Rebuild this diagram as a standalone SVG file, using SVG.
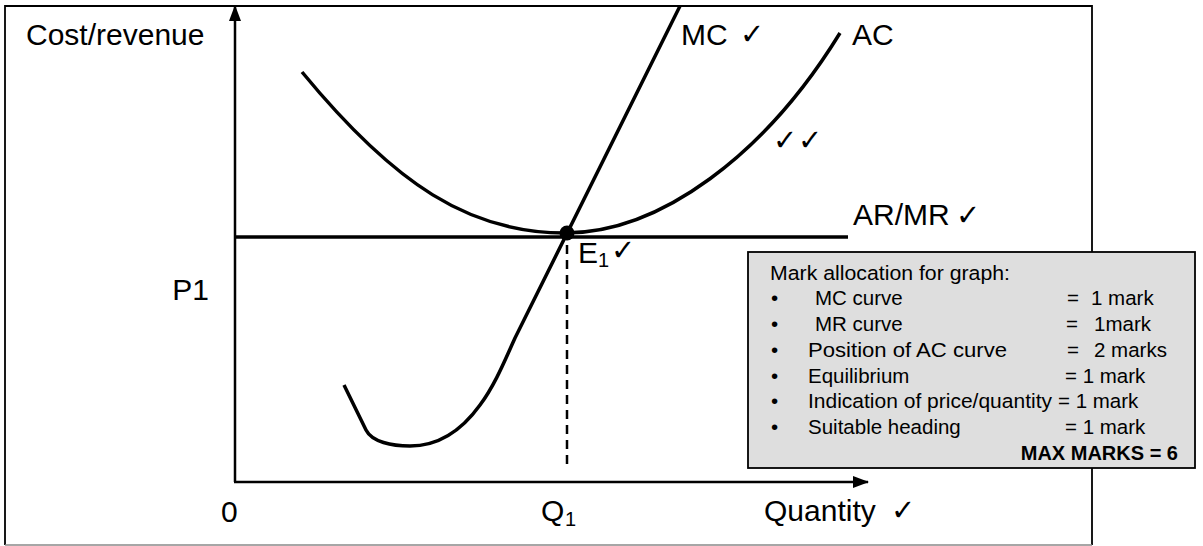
<svg xmlns="http://www.w3.org/2000/svg" width="1203" height="546" viewBox="0 0 1203 546">
<style>
.t{font-family:"Liberation Sans",Arial,"DejaVu Sans",sans-serif;fill:#000}
.lg{font-size:30px}
.sub{font-size:20px}
.bx{font-size:20.5px}
.ck{font-family:"DejaVu Sans",sans-serif;font-size:29px;fill:#000}
.curve{fill:none;stroke:#000;stroke-width:3.5;stroke-linejoin:round}
.axis{fill:none;stroke:#000;stroke-width:2.5}
</style>
<defs>
<marker id="ah" viewBox="0 0 16 12" refX="15" refY="6" markerWidth="16" markerHeight="12" markerUnits="userSpaceOnUse" orient="auto">
<path d="M0,0 L16,6 L0,12 Z" fill="#000"/>
</marker>
</defs>
<rect width="1203" height="546" fill="#fff"/>
<g id="frame">
<path d="M5,545 L5,6 L1092,6 L1092,545" fill="none" stroke="#000" stroke-width="1.8"/>
<line x1="5" y1="545" x2="1092" y2="545" stroke="#888" stroke-width="1.5"/>
</g>
<g id="connectors">
<line class="axis" x1="235" y1="482" x2="235" y2="6" marker-end="url(#ah)"/>
<line class="axis" x1="234" y1="482" x2="868" y2="482" marker-end="url(#ah)"/>
<line x1="567" y1="245" x2="567" y2="470" stroke="#000" stroke-width="2.5" stroke-dasharray="9,6"/>
</g>
<g id="ar-mr">
<line x1="234" y1="237" x2="848" y2="237" stroke="#000" stroke-width="3.5"/>
<text class="t lg" x="853" y="225">AR/MR</text>
<text class="ck" x="956" y="225">✓</text>
</g>
<g id="ac">
<path class="curve" d="M302,72 C395,185 470,233 565,233 C660,233 765,155 840,33"/>
<text class="t lg" x="852" y="45">AC</text>
<text class="ck" x="773" y="150">✓</text>
<text class="ck" x="798" y="150">✓</text>
</g>
<g id="mc">
<path class="curve" d="M344,385 L366,430 C372,442 392,446 410,446 C440,446 462,430 480,405 C495,385 505,360 515,338 L680,6"/>
<text class="t lg" x="681" y="45">MC</text>
<text class="ck" x="740" y="44">✓</text>
</g>
<g id="equilibrium">
<circle cx="567" cy="233" r="7.5" fill="#000"/>
<text class="t lg" x="578" y="263">E</text>
<text class="t sub" x="598" y="267">1</text>
<text class="ck" x="611" y="260">✓</text>
</g>
<g id="labels">
<text class="t lg" x="26" y="45">Cost/revenue</text>
<text class="t lg" x="209" y="300" text-anchor="end">P1</text>
<text class="t lg" x="221" y="522">0</text>
<text class="t lg" x="541" y="521">Q</text>
<text class="t sub" x="565" y="526">1</text>
<text class="t lg" x="764" y="521">Quantity</text>
<text class="ck" x="891" y="520">✓</text>
</g>
<g id="marks">
<rect x="748" y="252" width="447" height="216" fill="#dedede" stroke="#000" stroke-width="1.8"/>
<g class="t bx">
<text x="770" y="280" textLength="240" lengthAdjust="spacingAndGlyphs">Mark allocation for graph:</text>
<text x="771" y="305">•</text><text x="815" y="305">MC curve</text><text x="1067" y="305">=</text><text x="1091" y="305">1 mark</text>
<text x="771" y="331">•</text><text x="815" y="331">MR curve</text><text x="1066" y="331">=</text><text x="1094" y="331">1mark</text>
<text x="771" y="357">•</text><text x="808" y="357" textLength="199" lengthAdjust="spacingAndGlyphs">Position of AC curve</text><text x="1067" y="357">=</text><text x="1094" y="357">2 marks</text>
<text x="771" y="383">•</text><text x="808" y="383">Equilibrium</text><text x="1065" y="383">= 1 mark</text>
<text x="771" y="408">•</text><text x="808" y="408" textLength="244" lengthAdjust="spacingAndGlyphs">Indication of price/quantity</text><text x="1058" y="408">= 1 mark</text>
<text x="771" y="434">•</text><text x="808" y="434">Suitable heading</text><text x="1065" y="434">= 1 mark</text>
</g>
<text class="t" x="1178" y="460" font-size="20" font-weight="bold" text-anchor="end">MAX MARKS = 6</text>
</g>
</svg>
